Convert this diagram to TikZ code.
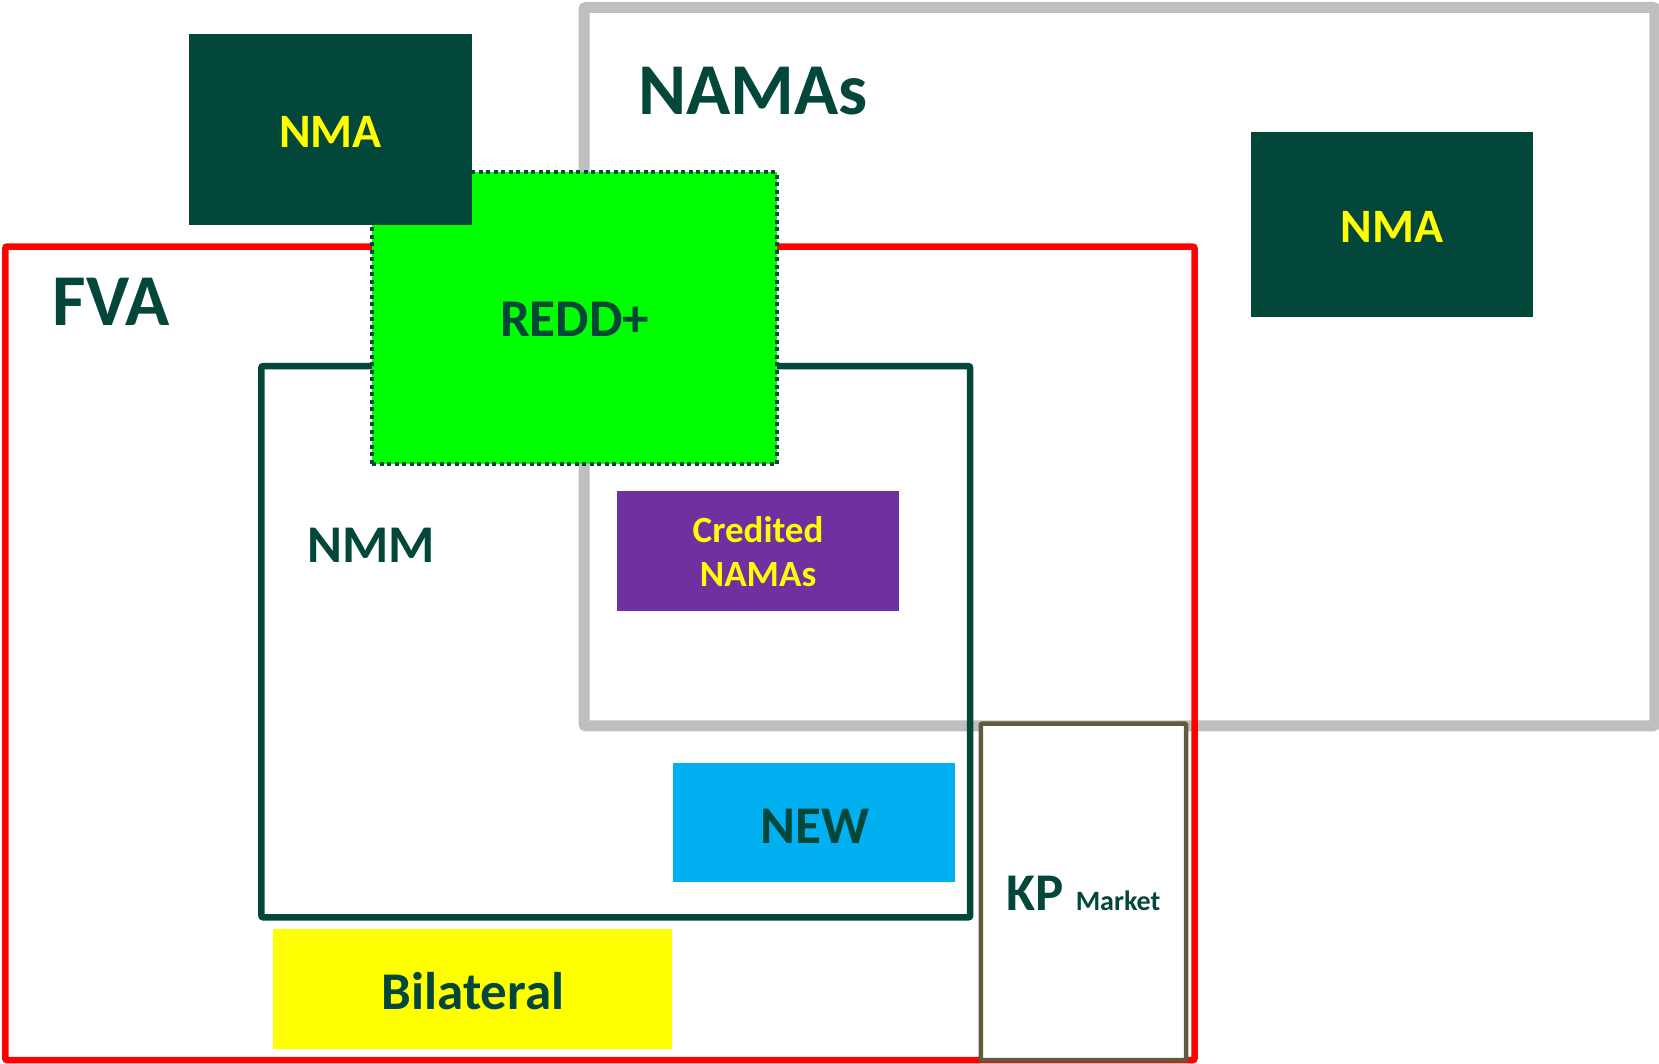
\documentclass[tikz,border=0pt]{standalone}
\usepackage{fontspec}
\setmainfont{Carlito}
\usetikzlibrary{fit}
\definecolor{dkgreen}{HTML}{03463A}
\definecolor{txtyellow}{HTML}{FFFF00}
\definecolor{limegreen}{HTML}{00FF00}
\definecolor{violet}{HTML}{7030A0}
\definecolor{skyblue}{HTML}{00B0F0}
\definecolor{frameGray}{HTML}{BFBFBF}
\definecolor{kpolive}{HTML}{625A3C}
\begin{document}
\begin{tikzpicture}[x=1.058pt,y=-1.058pt,
  area/.style={inner sep=0pt, outer sep=0pt},
  fillbox/.style={area, draw=none},
  frame/.style={area, fill=none, rounded corners=2pt},
  big/.style={font=\bfseries\fontsize{73}{88}\selectfont, text=dkgreen, anchor=base, inner sep=0pt},
  mid/.style={font=\bfseries\fontsize{53}{64}\selectfont, text=dkgreen, anchor=base, inner sep=0pt},
  nmalbl/.style={font=\bfseries\fontsize{48}{58}\selectfont, text=txtyellow, anchor=base, inner sep=0pt}
]
\useasboundingbox (0,0) rectangle (1568,1005);
\fill[white] (0,0) rectangle (1568,1005);

% NAMAs frame
\node[frame, draw=frameGray, line width=11pt, fit={(552,7)(1564,686)}] (namas) {};
\node[big] (namaslbl) at (712,108) {NAMAs};

% FVA frame
\node[frame, draw=red, line width=6.5pt, fit={(5,233)(1129,1002)}] (fva) {};
\node[big] (fvalbl) at (105,308) {FVA};

% NMM frame
\node[frame, draw=dkgreen, line width=6.5pt, fit={(247,346)(917,867)}] (nmm) {};
\node[mid] (nmmlbl) at (351,532) {NMM};

% REDD+ box with dotted outline
\node[area, fill=limegreen, draw=dkgreen, line width=4pt, dash pattern=on 4pt off 3.5pt,
      fit={(352,163)(734,439)}] (redd) {};
\node[mid] (reddlbl) at (543,318) {REDD+};

% NMA boxes
\node[fillbox, fill=dkgreen, fit={(179,32)(446,213)}] (nmaA) {};
\node[nmalbl] at (312.5,139) {NMA};
\node[fillbox, fill=dkgreen, fit={(1182,125)(1449,300)}] (nmaB) {};
\node[nmalbl] at (1315.5,229) {NMA};

% Credited NAMAs
\node[fillbox, fill=violet, fit={(583,464)(850,577)}] (cred) {};
\node[font=\bfseries\fontsize{37}{44}\selectfont, text=txtyellow, align=center, inner sep=0pt]
  at (716.5,521) {Credited\\NAMAs};

% NEW
\node[fillbox, fill=skyblue, fit={(636,721)(903,834)}] (new) {};
\node[mid] at (770,797) {NEW};

% Bilateral
\node[fillbox, fill=txtyellow, fit={(258,878)(635,991)}] (bil) {};
\node[mid] at (447,954) {Bilateral};

% KP market
\node[area, fill=white, draw=kpolive, line width=4.5pt, rounded corners=1pt, fit={(927,684)(1121,1002)}] (kp) {};
\node[mid, anchor=base] at (1024,861) {KP\ {\fontsize{28}{34}\selectfont Market}};
\end{tikzpicture}
\end{document}
